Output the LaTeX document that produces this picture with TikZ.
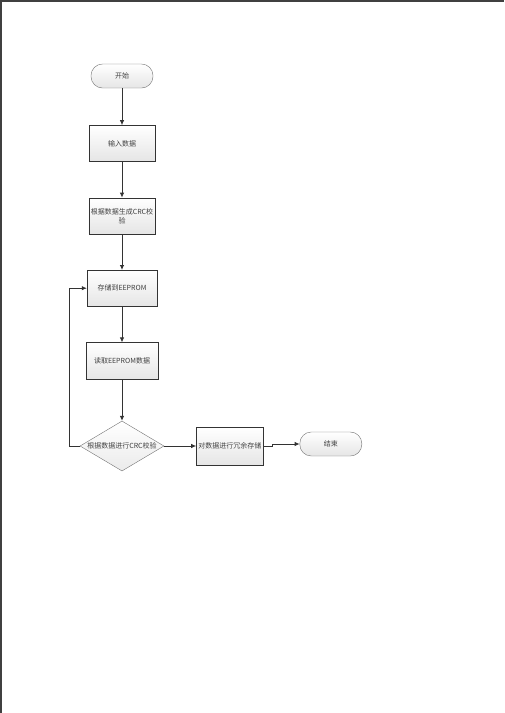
\documentclass[tikz,border=0pt]{standalone}
\usepackage{fontspec}
\newfontfamily\cjkfont{Noto Sans CJK SC}
\usetikzlibrary{arrows.meta,positioning,shapes.geometric}

\begin{document}
\begin{tikzpicture}[
  x=1pt, y=-1pt,
  font=\cjkfont\fontsize{7}{9}\selectfont, text=black!75,
  node distance=36pt and 34pt,
  term/.style  = {draw=black!55, rounded corners=11.5pt, minimum width=62pt,
                  minimum height=24pt, top color=white, bottom color=black!10},
  box/.style   = {draw=black!80, minimum width=66pt, minimum height=36pt,
                  align=center, inner sep=2pt, top color=white, bottom color=black!10},
  dec/.style   = {draw=black!55, diamond, aspect=1.66, inner sep=0pt,
                  minimum width=84pt, minimum height=50pt,
                  top color=white, bottom color=black!8},
  arr/.style   = {-{Latex[length=5pt,width=4.5pt]}, draw=black!80, line width=0.8pt},
  frame/.style = {draw=black!75, line width=1.6pt}
]
\useasboundingbox (0,0) rectangle (504,713);
%% Page edge
\draw[frame] (0.8,713) -- (0.8,0.8) -- (504,0.8);
%% Main flow
\node[term] (start) at (122,76) {开始};
\node[box,below=37pt of start] (inp) {输入数据};
\node[box,below=of inp]        (crc) {根据数据生成CRC校\\验};
\node[box,below=of crc,minimum width=70pt] (sto) {存储到EEPROM};
\node[box,below=of sto,minimum width=72pt,minimum height=37pt] (rd) {读取EEPROM数据};
\node[dec,below=41pt of rd]    (chk) {根据数据进行CRC校验};
\node[box,right=32pt of chk,minimum width=67pt,minimum height=38pt] (red) {对数据进行冗余存储};
\node[term,right=36pt of red,yshift=2pt] (fin) {结束};
%% Connectors
\draw[arr] (start)--(inp); \draw[arr] (inp)--(crc);
\draw[arr] (crc)--(sto);   \draw[arr] (sto)--(rd);
\draw[arr] (rd)--(chk);    \draw[arr] (chk)--(red);
\draw[arr] (chk.west) -- ++(-10pt,0) |- (sto.west);
\draw[arr] (red.east) -- ++(9pt,0) |- (fin.west);
\end{tikzpicture}
\end{document}
